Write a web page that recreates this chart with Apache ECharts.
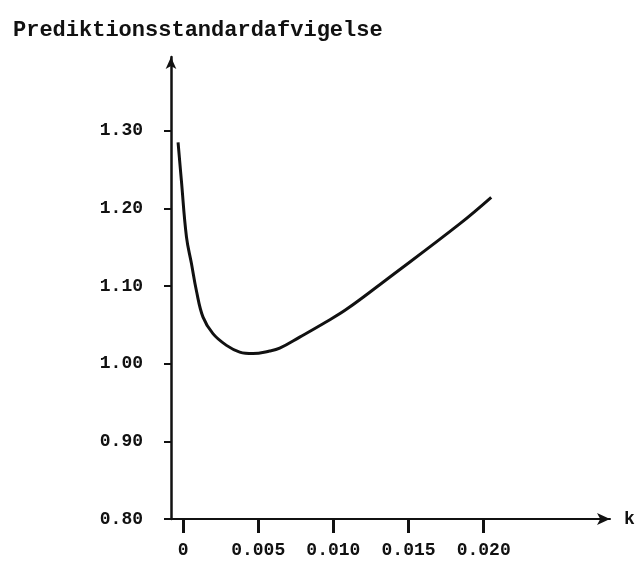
<!DOCTYPE html>
<html>
<head>
<meta charset="utf-8">
<script src="https://cdn.jsdelivr.net/npm/echarts@6/dist/echarts.min.js"></script>
<style>
  html, body { margin: 0; padding: 0; background: #fff; }
  #chart { width: 640px; height: 570px; }
</style>
</head>
<body>
<div id="chart"></div>
<script>
// Prediction standard deviation as a function of the ridge parameter k
const kValues = [-0.00033, -0.00011, 0.00023, 0.00056, 0.00089, 0.00133, 0.00199, 0.00289, 0.00377, 0.00465,
                 0.00576, 0.00643, 0.00776, 0.00931, 0.01087, 0.01374, 0.0184, 0.0205];
const sdValues = [1.285, 1.236, 1.163, 1.129, 1.094, 1.060, 1.0387, 1.0236, 1.0150, 1.0130,
                  1.0163, 1.0200, 1.0343, 1.0515, 1.0700, 1.1114, 1.1801, 1.2143];

const xTickValues = [0, 0.005, 0.010, 0.015, 0.020];
const xTickLabels = ['0', '0.005', '0.010', '0.015', '0.020'];
const yTickValues = [0.8, 0.9, 1.0, 1.1, 1.2, 1.3];
const yTickLabels = ['0.80', '0.90', '1.00', '1.10', '1.20', '1.30'];

const FONT = '"Liberation Mono", "DejaVu Sans Mono", monospace';

function labelFor(values, labels) {
  return function (v) {
    for (let i = 0; i < values.length; i++) {
      if (Math.abs(values[i] - v) < 1e-9) return labels[i];
    }
    return '';
  };
}

const chart = echarts.init(document.getElementById('chart'), null, { renderer: 'canvas' });

chart.setOption({
  backgroundColor: '#ffffff',
  animation: false,
  title: {
    text: 'Prediktionsstandardafvigelse',
    left: 8,
    top: 14,
    textStyle: { fontFamily: FONT, fontSize: 22, fontWeight: 'bold', color: '#111' }
  },
  grid: { left: 171, right: 30, top: 57, bottom: 51, containLabel: false },
  xAxis: {
    type: 'value',
    min: -0.0008,
    max: 0.0284,
    name: 'k',
    nameLocation: 'end',
    nameGap: 14,
    nameTextStyle: { fontFamily: FONT, fontSize: 18, fontWeight: 'bold', color: '#111', verticalAlign: 'middle' },
    axisLine: {
      show: true,
      onZero: false,
      lineStyle: { color: '#111', width: 2 },
      symbol: ['none', 'arrow'],
      symbolSize: [9, 13]
    },
    axisTick: {
      show: true,
      customValues: xTickValues,
      length: 14,
      lineStyle: { color: '#111', width: 3 }
    },
    axisLabel: {
      show: true,
      customValues: xTickValues,
      formatter: labelFor(xTickValues, xTickLabels),
      margin: 22,
      fontFamily: FONT,
      fontSize: 18,
      fontWeight: 'bold',
      color: '#111'
    },
    splitLine: { show: false }
  },
  yAxis: {
    type: 'value',
    min: 0.8,
    max: 1.395,
    axisLine: {
      show: true,
      onZero: false,
      lineStyle: { color: '#111', width: 2.5 },
      symbol: ['none', 'arrow'],
      symbolSize: [8, 12]
    },
    axisTick: {
      show: true,
      customValues: yTickValues,
      length: 7,
      lineStyle: { color: '#111', width: 2 }
    },
    axisLabel: {
      show: true,
      customValues: yTickValues,
      formatter: labelFor(yTickValues, yTickLabels),
      margin: 28,
      fontFamily: FONT,
      fontSize: 18,
      fontWeight: 'bold',
      color: '#111'
    },
    splitLine: { show: false }
  },
  series: [{
    type: 'line',
    data: kValues.map((k, i) => [k, sdValues[i]]),
    smooth: 0.4,
    showSymbol: false,
    lineStyle: { color: '#111', width: 3 }
  }]
});
</script>
</body>
</html>
